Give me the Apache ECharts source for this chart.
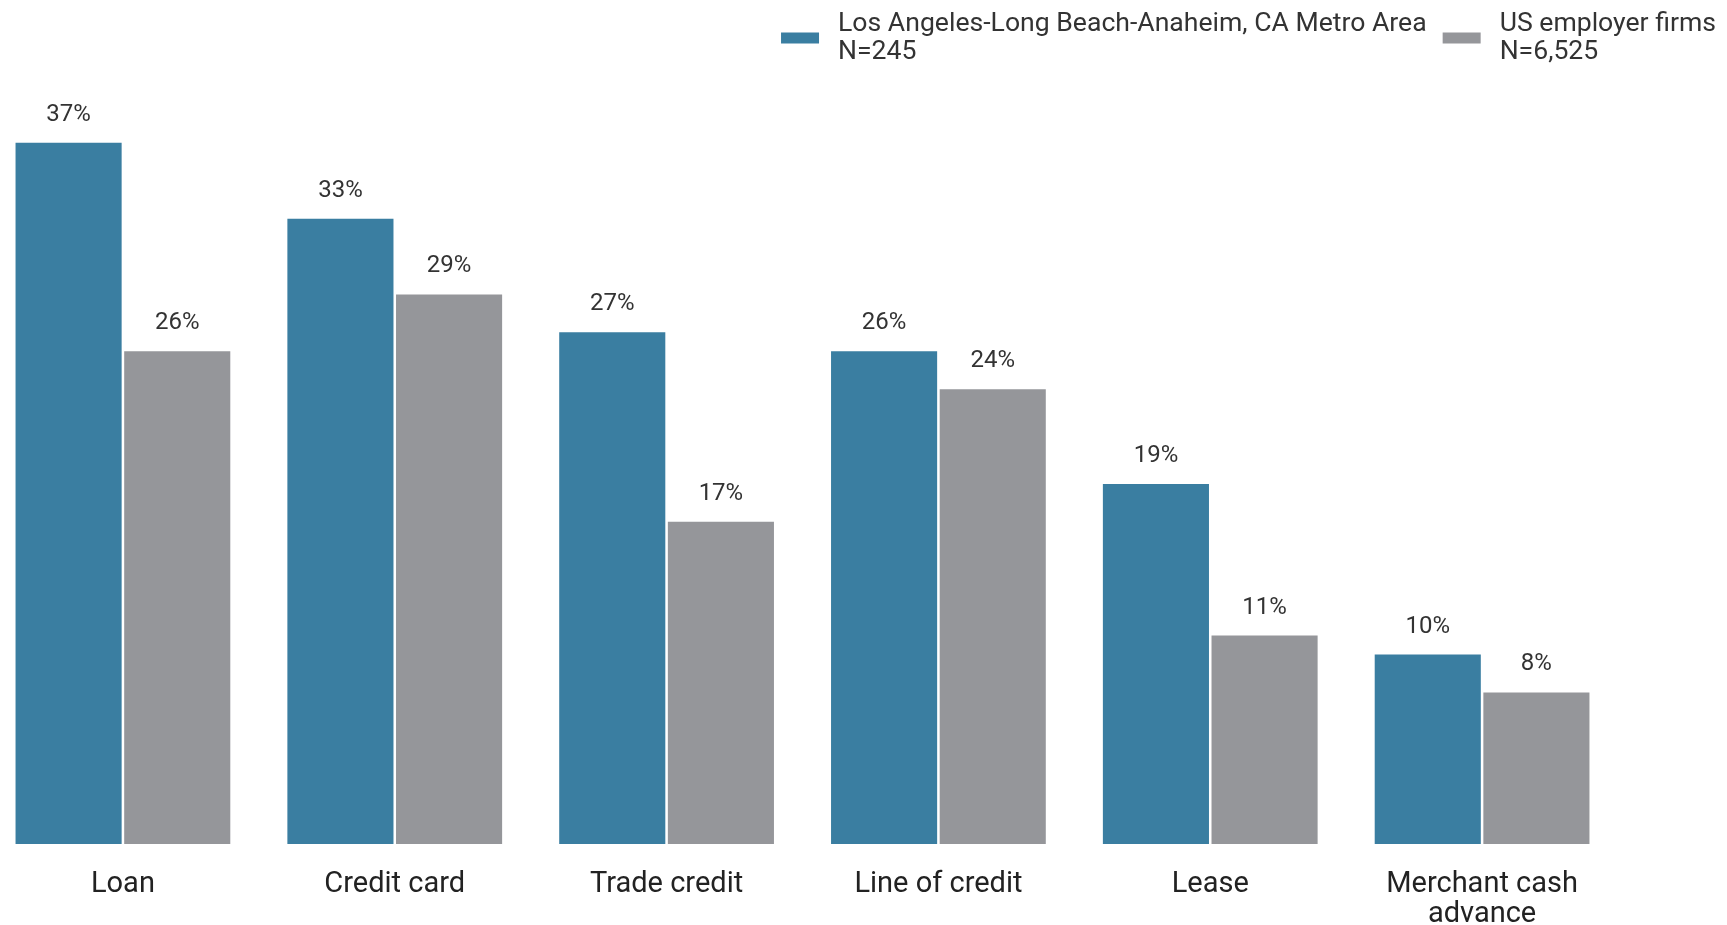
<!DOCTYPE html>
<html>
<head>
<meta charset="utf-8">
<script src="https://cdn.jsdelivr.net/npm/echarts@6/dist/echarts.min.js"></script>
<style>
html,body{margin:0;padding:0;background:#fff;overflow:hidden;}
#chart{position:absolute;left:-13px;top:0;width:1740px;height:925px;}
</style>
</head>
<body>
<div id="chart"></div>
<script>
const categories = ['Loan', 'Credit card', 'Trade credit', 'Line of credit', 'Lease', 'Merchant cash\nadvance'];
const laValues = [37, 33, 27, 26, 19, 10];
const usValues = [26, 29, 17, 24, 11, 8];
const seriesNames = ['Los Angeles-Long Beach-Anaheim, CA Metro Area\nN=245', 'US employer firms\nN=6,525'];

const chart = echarts.init(document.getElementById('chart'));
const labelStyle = {
  show: true,
  position: 'top',
  distance: 16,
  formatter: p => p.value + '%',
  fontFamily: 'Roboto',
  fontSize: 24,
  color: '#333'
};
chart.setOption({
  animation: false,
  legend: {
    top: 5,
    right: 6,
    itemWidth: 38,
    itemHeight: 11,
    itemGap: 16,
    icon: 'rect',
    textStyle: {
      fontFamily: 'Roboto',
      fontSize: 26.6,
      color: '#333',
      lineHeight: 28,
      padding: [0, 0, 0, 14]
    },
    data: seriesNames
  },
  grid: {
    left: 0,
    right: 109,
    top: 86,
    bottom: 81,
    containLabel: false,
    outerBoundsMode: 'none'
  },
  xAxis: {
    type: 'category',
    data: categories,
    axisLine: { show: false },
    axisTick: { show: false },
    axisLabel: {
      fontFamily: 'Roboto',
      fontSize: 29,
      color: '#222',
      margin: 26,
      lineHeight: 30,
      interval: 0
    }
  },
  yAxis: {
    type: 'value',
    min: 0,
    max: 40,
    show: false,
    splitLine: { show: false }
  },
  series: [
    {
      name: seriesNames[0],
      type: 'bar',
      data: laValues,
      barGap: '2.4%',
      barCategoryGap: '21%',
      itemStyle: { color: '#3A7EA1' },
      label: labelStyle
    },
    {
      name: seriesNames[1],
      type: 'bar',
      data: usValues,
      itemStyle: { color: '#95969A' },
      label: labelStyle
    }
  ]
});
</script>
</body>
</html>
